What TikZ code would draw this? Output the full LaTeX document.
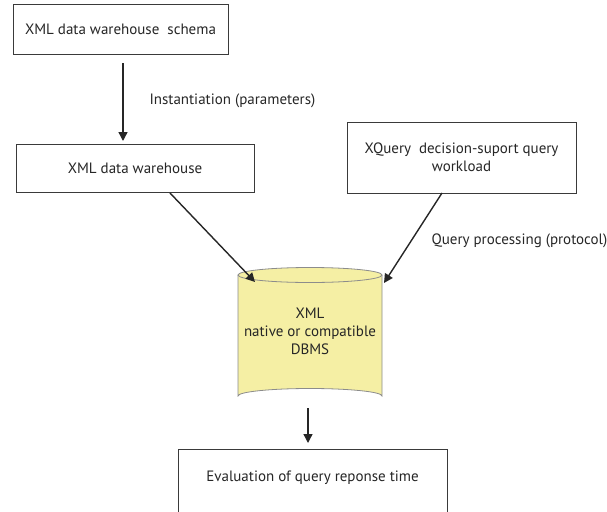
\documentclass[tikz,border=0pt]{standalone}
\usepackage{fontspec}
\setmainfont{PT Sans}
\usetikzlibrary{arrows.meta,shapes.geometric}
\definecolor{cylfill}{HTML}{F5EFA4}
\definecolor{boxline}{HTML}{3A3A3A}
\begin{document}
\begin{tikzpicture}[x=1pt,y=-1pt,
  box/.style={draw=boxline,line width=1pt,fill=white},
  txt/.style={font=\fontsize{15}{18}\selectfont,text=black!85,align=center},
  arr/.style={-{Triangle[length=9pt,width=9pt]},line width=1.4pt,black!85}]
\useasboundingbox (0,0) rectangle (607,511);
% boxes
\node[box,minimum width=215pt,minimum height=50pt,inner sep=0pt] (schema) at (120.5,29.5) {};
\node[txt] at (schema.center) {XML data warehouse\ \ schema};
\node[box,minimum width=238pt,minimum height=48pt,inner sep=0pt] (dw) at (135,168) {};
\node[txt] at (dw.center) {XML data warehouse};
\node[box,minimum width=229pt,minimum height=71pt,inner sep=0pt] (xq) at (461.5,157.5) {};
\node[txt] at (xq.center) {XQuery\ \ decision-suport query\\workload};
\draw[box] (178,449) rectangle (447,530);
\node[txt] (eval) at (312.5,478) {Evaluation of query reponse time};
\coordinate (evaltop) at (308,443);
% cylinder
\draw[draw=black!45,line width=0.8pt,fill=cylfill] (238,275) -- (238,396) arc[start angle=180,end angle=360,x radius=72,y radius=7.5] -- (382,275);
\draw[draw=black!45,line width=0.8pt,fill=cylfill] (310,275) ellipse[x radius=72,y radius=7.5];
\node[txt,inner sep=0pt] (db) at (310,331) {XML\\native or compatible\\DBMS};
\coordinate (dbleft) at (255,282);
\coordinate (dbright) at (384,283);
\coordinate (dbbot) at (308,408);
% arrows
\coordinate (a1s) at (123,63);
\coordinate (a1e) at (123,141);
\draw[arr] (a1s) -- (a1e);
\node[txt,anchor=west] at (146,101) {Instantiation (parameters)};
\draw[arr] (170,193) -- (dbleft);
\draw[arr] (442,193) -- (dbright);
\node[txt,anchor=west] at (428,241) {Query processing (protocol)};
\draw[arr] (dbbot) -- (evaltop);
\end{tikzpicture}
\end{document}
